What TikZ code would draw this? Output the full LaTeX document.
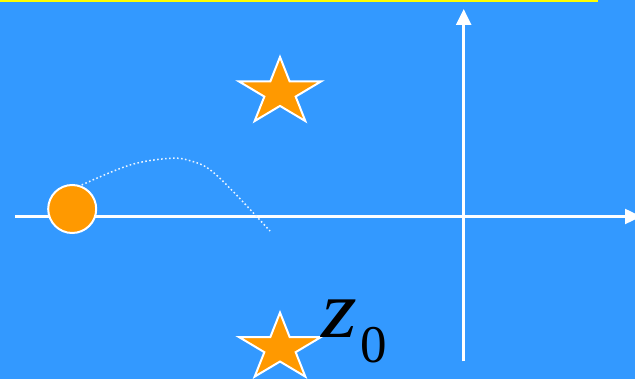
\documentclass[tikz,border=0pt]{standalone}
\usepackage{fontspec}
\setmainfont{Liberation Serif}
\usetikzlibrary{arrows.meta}
\definecolor{skyblue}{HTML}{3399FF}
\definecolor{starorange}{HTML}{FF9900}
\definecolor{topyellow}{HTML}{FFFF00}
\newcommand{\starpath}{(90:1) -- (126:0.382) -- (162:1) -- (198:0.382) -- (234:1) -- (270:0.382) -- (306:1) -- (342:0.382) -- (18:1) -- (54:0.382) -- cycle}
\begin{document}
\begin{tikzpicture}[x=1pt, y=-1pt,
        axis/.style={white, line width=2.5pt, -{Triangle[length=16pt, width=15pt]}},
        ball/.style={circle, draw=white, line width=2pt, fill=starorange, minimum size=48pt, inner sep=0pt},
        starshape/.style={draw=white, line width=2pt, fill=starorange, line join=miter},
        path/.style={white!90!skyblue, line width=1.5pt, dash pattern=on 1.6pt off 2.4pt},
        zlabel/.style={anchor=base west, inner sep=0pt, text=black}]

        % Hintergrund
        \fill[skyblue] (0,0) rectangle (635,379);
        \useasboundingbox (0,0) rectangle (635,379);
        \fill[topyellow] (0,0) rectangle (598,1.8);

        % Achsen
        \coordinate (xstart) at (15,216.5);
        \coordinate (xend) at (641,216.5);
        \coordinate (ystart) at (463.7,361.5);
        \coordinate (yend) at (463.7,9);
        \draw[axis] (xstart) -- (xend);
        \draw[axis] (ystart) -- (yend);

        % Kugel und Bahn
        \node[ball] (ball) at (72.2,209) {};
        \coordinate (landing) at (270,231);
        \draw[path] plot[smooth, tension=0.6] coordinates {(81.7,185) (130,165) (170,158.3) (190,160.7) (209,169) (233.3,191.7) (270,231)};

        % Sterne
        \begin{scope}[shift={(280,92.4)}, xscale=43.1, yscale=-35.4]
            \draw[starshape] \starpath;
        \end{scope}
        \begin{scope}[shift={(280,348)}, xscale=43.1, yscale=-35.4]
            \draw[starshape] \starpath;
        \end{scope}

        % Beschriftung
        \node[zlabel] (z0) at (321,338) {\fontsize{82}{82}\selectfont\itshape\scalebox{1.12}[1]{z}\kern 4pt\raisebox{-25pt}{\fontsize{53}{53}\selectfont\upshape 0}};
    \end{tikzpicture}
\end{document}
